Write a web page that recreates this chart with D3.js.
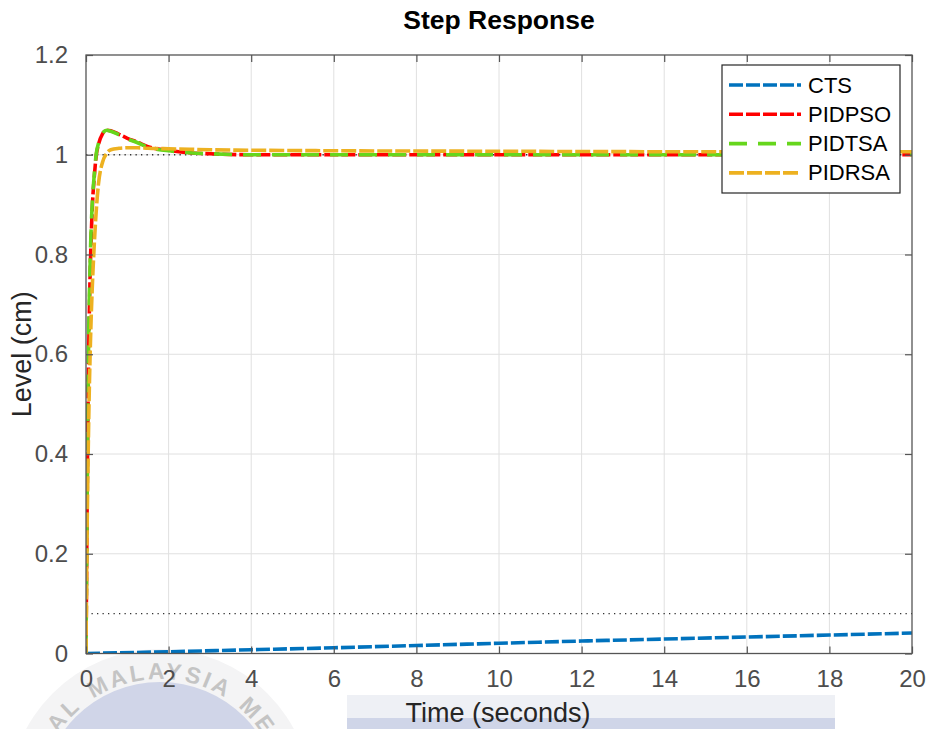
<!DOCTYPE html>
<html>
<head>
<meta charset="utf-8">
<script src="https://cdn.jsdelivr.net/npm/d3@7"></script>
<style>
  html, body { margin: 0; padding: 0; background: #fff; }
  svg { display: block; font-family: "Liberation Sans", Arial, Helvetica, sans-serif; }
</style>
</head>
<body>
<svg id="chart" width="932" height="729"></svg>
<script>
// Step response data (level in cm vs time in seconds)
const tFast = [0, 0.02, 0.04, 0.06, 0.08, 0.1, 0.12, 0.15, 0.2, 0.25, 0.3, 0.4, 0.5, 0.6, 0.8, 1.0, 1.25, 1.5, 2.0, 2.5, 3.0, 4.0, 6.0, 10.0, 15.0, 20.0];
const pidpso = [0, 0.22, 0.42, 0.57, 0.68, 0.76, 0.82, 0.89, 0.955, 1.0, 1.02, 1.042, 1.049, 1.048, 1.041, 1.033, 1.025, 1.016, 1.009, 1.004, 1.002, 1.0, 1.0, 1.0, 1.0, 1.0];
const pidtsa = [0, 0.24, 0.45, 0.6, 0.71, 0.78, 0.84, 0.9, 0.96, 1.003, 1.022, 1.043, 1.049, 1.047, 1.04, 1.032, 1.024, 1.015, 1.008, 1.004, 1.002, 1.0, 1.0, 1.0, 1.0, 1.0];
const pidrsa = [0, 0.2, 0.33, 0.44, 0.53, 0.6, 0.66, 0.73, 0.82, 0.89, 0.94, 0.985, 1.003, 1.01, 1.013, 1.014, 1.014, 1.013, 1.012, 1.011, 1.01, 1.009, 1.008, 1.007, 1.006, 1.006];
const tSlow = [0, 2, 4, 6, 8, 10, 12, 14, 16, 18, 20];
const cts = [0, 0.0035, 0.0075, 0.0115, 0.016, 0.0205, 0.025, 0.029, 0.033, 0.037, 0.041];

// Steady-state reference levels (dotted)
const steadyLevels = [1, 0.08];

const seriesNames = ["CTS", "PIDPSO", "PIDTSA", "PIDRSA"];
const xTicks = [0, 2, 4, 6, 8, 10, 12, 14, 16, 18, 20];
const yTicks = [0, 0.2, 0.4, 0.6, 0.8, 1, 1.2];

const series = [
  { name: seriesNames[0], t: tSlow, v: cts, color: "#0072BD", dash: "14,3" },
  { name: seriesNames[1], t: tFast, v: pidpso, color: "#FF0000", dash: "14,3" },
  { name: seriesNames[2], t: tFast, v: pidtsa, color: "#66D61C", dash: "18,11" },
  { name: seriesNames[3], t: tFast, v: pidrsa, color: "#EDB120", dash: "15,3" }
];

const svg = d3.select("#chart");
const plot = { left: 86, right: 912, top: 55, bottom: 653.5 };

const x = d3.scaleLinear().domain([0, 20]).range([plot.left, plot.right]);
const y = d3.scaleLinear().domain([0, 1.2]).range([plot.bottom, plot.top]);

// University seal watermark in the lower-left corner
const wm = svg.append("g").attr("class", "watermark");
const cx = 160, cy = 801;
wm.append("circle").attr("cx", cx).attr("cy", cy).attr("r", 152).attr("fill", "#f4f4f5");
wm.append("circle").attr("cx", cx).attr("cy", cy).attr("r", 119).attr("fill", "#d0d5e8");
const rText = 122;
wm.append("path").attr("id", "sealArc")
  .attr("d", `M ${cx - rText},${cy} A ${rText},${rText} 0 1,1 ${cx + rText},${cy} A ${rText},${rText} 0 1,1 ${cx - rText},${cy}`)
  .attr("fill", "none");
const halfCirc = Math.PI * rText;
// visible pieces of the ring lettering, placed by angle from the top
const ringWords = [
  { text: "AL", angle: -48 },
  { text: "MALAYSIA", angle: 0 },
  { text: "ME", angle: 49 }
];
ringWords.forEach(w => {
  const offset = halfCirc / 2 + (w.angle / 180) * Math.PI * rText;
  wm.append("text")
    .attr("font-size", 23)
    .attr("font-weight", "bold")
    .attr("letter-spacing", 3)
    .attr("fill", "#c4c4c4")
    .append("textPath")
    .attr("href", "#sealArc")
    .attr("startOffset", offset)
    .attr("text-anchor", "middle")
    .text(w.text);
});
// band behind the x-axis label
wm.append("rect").attr("x", 347).attr("y", 695).attr("width", 488).attr("height", 23).attr("fill", "#eef0f5");
wm.append("rect").attr("x", 347).attr("y", 718).attr("width", 488).attr("height", 11).attr("fill", "#cfd5e8");

// Grid
const grid = svg.append("g").attr("class", "grid");
grid.selectAll("line.gx").data(xTicks.slice(1, -1)).join("line")
  .attr("x1", d => x(d)).attr("x2", d => x(d))
  .attr("y1", plot.top).attr("y2", plot.bottom)
  .attr("stroke", "#e0e0e0").attr("stroke-width", 1);
grid.selectAll("line.gy").data(yTicks.slice(1, -1)).join("line")
  .attr("x1", plot.left).attr("x2", plot.right)
  .attr("y1", d => y(d)).attr("y2", d => y(d))
  .attr("stroke", "#e0e0e0").attr("stroke-width", 1);

svg.append("clipPath").attr("id", "plotClip").append("rect")
  .attr("x", plot.left).attr("y", plot.top)
  .attr("width", plot.right - plot.left).attr("height", plot.bottom - plot.top);

const content = svg.append("g").attr("clip-path", "url(#plotClip)");

// Dotted steady-state lines
content.selectAll("line.ss").data(steadyLevels).join("line")
  .attr("x1", x(0)).attr("x2", x(20))
  .attr("y1", d => y(d)).attr("y2", d => y(d))
  .attr("stroke", "#333").attr("stroke-width", 1.3)
  .attr("stroke-dasharray", "1.3,4.2");

// Response curves
const line = d3.line().curve(d3.curveMonotoneX);
series.forEach(s => {
  const pts = s.t.map((t, i) => [x(t), y(s.v[i])]);
  content.append("path")
    .attr("d", line(pts))
    .attr("fill", "none")
    .attr("stroke", s.color)
    .attr("stroke-width", 3.6)
    .attr("stroke-dasharray", s.dash);
});

// Axes box with inward ticks
const axisColor = "#555";
const axG = svg.append("g");
axG.append("rect")
  .attr("x", plot.left).attr("y", plot.top)
  .attr("width", plot.right - plot.left).attr("height", plot.bottom - plot.top)
  .attr("fill", "none").attr("stroke", axisColor).attr("stroke-width", 1.3);

const tickLen = 7;
const xAxisB = d3.axisBottom(x).tickValues(xTicks).tickSize(-tickLen).tickPadding(16).tickFormat(d3.format("d"));
const xAxisT = d3.axisTop(x).tickValues(xTicks).tickSize(-tickLen).tickFormat("");
const yAxisL = d3.axisLeft(y).tickValues(yTicks).tickSize(-tickLen).tickPadding(18).tickFormat(d => d === 0 || d === 1 ? String(d) : d3.format(".1f")(d));
const yAxisR = d3.axisRight(y).tickValues(yTicks).tickSize(-tickLen).tickFormat("");

function styleAxis(g) {
  g.select(".domain").remove();
  g.selectAll(".tick line").attr("stroke", axisColor).attr("stroke-width", 1.2);
  g.selectAll(".tick text").attr("fill", "#4d4d4d").attr("font-size", 24)
    .attr("font-family", "'Liberation Sans', Arial, sans-serif");
}
axG.append("g").attr("transform", `translate(0,${plot.bottom})`).call(xAxisB).call(styleAxis);
axG.append("g").attr("transform", `translate(0,${plot.top})`).call(xAxisT).call(styleAxis);
axG.append("g").attr("transform", `translate(${plot.left},0)`).call(yAxisL).call(styleAxis);
axG.append("g").attr("transform", `translate(${plot.right},0)`).call(yAxisR).call(styleAxis);

// Title and axis labels
svg.append("text").attr("x", (plot.left + plot.right) / 2).attr("y", 29)
  .attr("text-anchor", "middle").attr("font-size", 26.5).attr("font-weight", "bold")
  .attr("fill", "#000").text("Step Response");
svg.append("text").attr("x", (plot.left + plot.right) / 2 - 1).attr("y", 722)
  .attr("text-anchor", "middle").attr("font-size", 27).attr("fill", "#262626")
  .text("Time (seconds)");
svg.append("text").attr("transform", `translate(31,${(plot.top + plot.bottom) / 2}) rotate(-90)`)
  .attr("text-anchor", "middle").attr("font-size", 27).attr("fill", "#262626")
  .text("Level (cm)");

// Legend
const lg = svg.append("g").attr("class", "legend");
const lgBox = { x: 722, y: 65, w: 178, h: 128 };
lg.append("rect").attr("x", lgBox.x).attr("y", lgBox.y).attr("width", lgBox.w).attr("height", lgBox.h)
  .attr("fill", "#fff").attr("stroke", "#262626").attr("stroke-width", 1.2);
series.forEach((s, i) => {
  const ry = 85 + i * 29.3;
  lg.append("line").attr("x1", 729).attr("x2", 801).attr("y1", ry).attr("y2", ry)
    .attr("stroke", s.color).attr("stroke-width", 3.6).attr("stroke-dasharray", s.dash);
  lg.append("text").attr("x", 808).attr("y", ry + 7.5).attr("font-size", 22)
    .attr("fill", "#000").text(s.name);
});
</script>
</body>
</html>
